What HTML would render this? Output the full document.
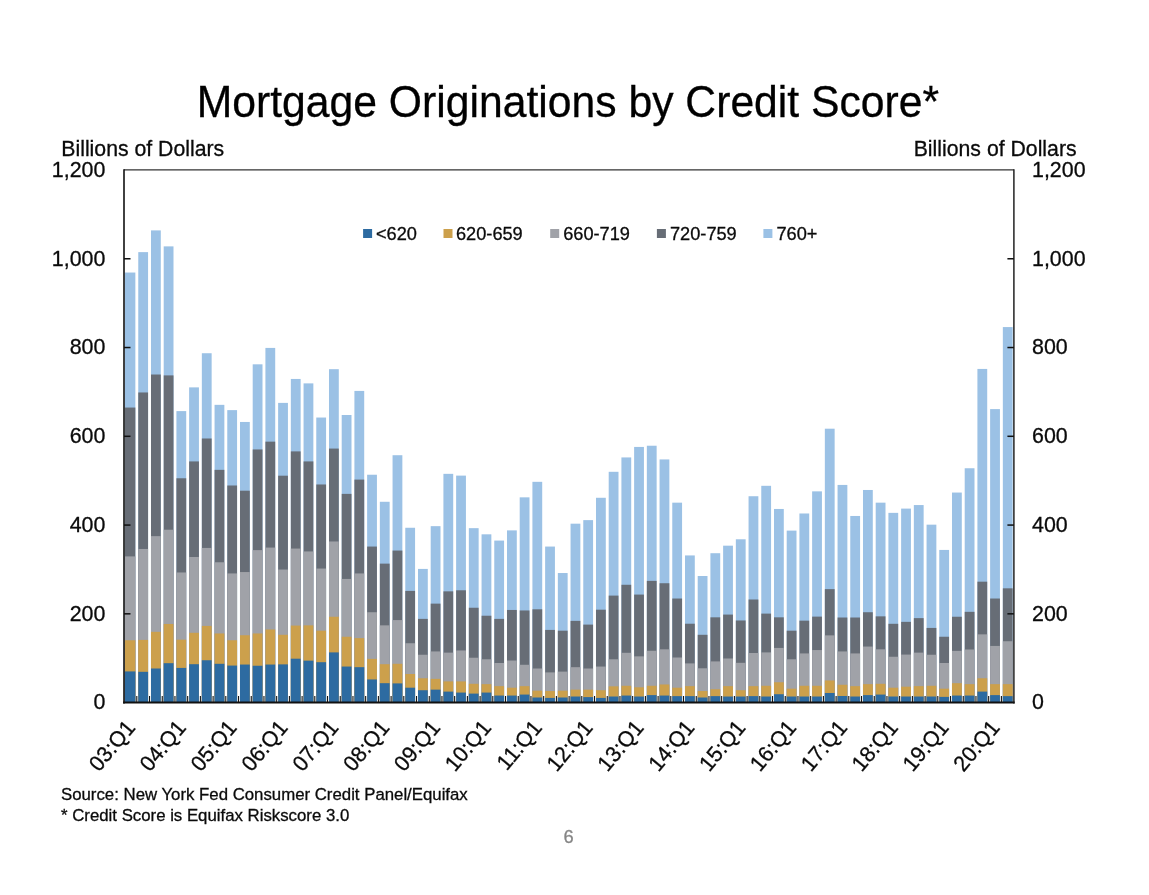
<!DOCTYPE html>
<html lang="en"><head><meta charset="utf-8"><title>Mortgage Originations by Credit Score</title>
<style>html,body{margin:0;padding:0;background:#fff;}body{width:1149px;height:895px;overflow:hidden;position:relative;font-family:"Liberation Sans",Arial,Helvetica,sans-serif;}svg{position:absolute;left:0;top:0;display:block;}text{font-family:"Liberation Sans",Arial,Helvetica,sans-serif;fill:#0a0a0a;stroke:#0a0a0a;stroke-width:0.3px;paint-order:stroke fill;}text.t{fill:#000;stroke:#000;stroke-width:0.3px;}text.pg{fill:#858585;stroke:#858585;stroke-width:0.3px;}</style></head><body>
<svg width="1149" height="895" viewBox="0 0 1149 895">
<rect x="0" y="0" width="1149" height="895" fill="#ffffff"/>
<text class="t" transform="translate(567.9 116.6) scale(1 1.025)" font-size="42.7" text-anchor="middle">Mortgage Originations by Credit Score*</text>
<g>
<rect x="124.76" y="272.53" width="10.6" height="429.67" fill="#9bc1e5"/>
<rect x="124.76" y="407.55" width="10.6" height="294.65" fill="#676d76"/>
<rect x="124.76" y="556.4" width="10.6" height="145.8" fill="#a0a2a8"/>
<rect x="124.76" y="640.25" width="10.6" height="61.95" fill="#cca04c"/>
<rect x="124.76" y="671.43" width="10.6" height="30.77" fill="#2d6ba1"/>
<rect x="138.27" y="252.13" width="9.8" height="450.07" fill="#9bc1e5"/>
<rect x="138.27" y="392.47" width="9.8" height="309.73" fill="#676d76"/>
<rect x="138.27" y="548.96" width="9.8" height="153.24" fill="#a0a2a8"/>
<rect x="138.27" y="639.9" width="9.8" height="62.3" fill="#cca04c"/>
<rect x="138.27" y="671.83" width="9.8" height="30.37" fill="#2d6ba1"/>
<rect x="150.99" y="230.4" width="9.8" height="471.8" fill="#9bc1e5"/>
<rect x="150.99" y="374.52" width="9.8" height="327.68" fill="#676d76"/>
<rect x="150.99" y="536.14" width="9.8" height="166.06" fill="#a0a2a8"/>
<rect x="150.99" y="631.83" width="9.8" height="70.37" fill="#cca04c"/>
<rect x="150.99" y="668.5" width="9.8" height="33.7" fill="#2d6ba1"/>
<rect x="163.7" y="246.37" width="9.8" height="455.83" fill="#9bc1e5"/>
<rect x="163.7" y="375.4" width="9.8" height="326.8" fill="#676d76"/>
<rect x="163.7" y="529.71" width="9.8" height="172.49" fill="#a0a2a8"/>
<rect x="163.7" y="623.98" width="9.8" height="78.22" fill="#cca04c"/>
<rect x="163.7" y="663.18" width="9.8" height="39.02" fill="#2d6ba1"/>
<rect x="176.41" y="411.1" width="9.8" height="291.1" fill="#9bc1e5"/>
<rect x="176.41" y="478.27" width="9.8" height="223.93" fill="#676d76"/>
<rect x="176.41" y="572.46" width="9.8" height="129.74" fill="#a0a2a8"/>
<rect x="176.41" y="639.68" width="9.8" height="62.52" fill="#cca04c"/>
<rect x="176.41" y="667.92" width="9.8" height="34.28" fill="#2d6ba1"/>
<rect x="189.13" y="387.37" width="9.8" height="314.83" fill="#9bc1e5"/>
<rect x="189.13" y="461.42" width="9.8" height="240.78" fill="#676d76"/>
<rect x="189.13" y="556.98" width="9.8" height="145.22" fill="#a0a2a8"/>
<rect x="189.13" y="632.81" width="9.8" height="69.39" fill="#cca04c"/>
<rect x="189.13" y="664.2" width="9.8" height="38" fill="#2d6ba1"/>
<rect x="201.84" y="353.23" width="9.8" height="348.97" fill="#9bc1e5"/>
<rect x="201.84" y="438.5" width="9.8" height="263.7" fill="#676d76"/>
<rect x="201.84" y="547.94" width="9.8" height="154.26" fill="#a0a2a8"/>
<rect x="201.84" y="625.93" width="9.8" height="76.27" fill="#cca04c"/>
<rect x="201.84" y="660.25" width="9.8" height="41.95" fill="#2d6ba1"/>
<rect x="214.56" y="404.84" width="9.8" height="297.36" fill="#9bc1e5"/>
<rect x="214.56" y="469.85" width="9.8" height="232.35" fill="#676d76"/>
<rect x="214.56" y="562.26" width="9.8" height="139.94" fill="#a0a2a8"/>
<rect x="214.56" y="633.47" width="9.8" height="68.73" fill="#cca04c"/>
<rect x="214.56" y="663.8" width="9.8" height="38.4" fill="#2d6ba1"/>
<rect x="227.27" y="410.12" width="9.8" height="292.08" fill="#9bc1e5"/>
<rect x="227.27" y="485.5" width="9.8" height="216.7" fill="#676d76"/>
<rect x="227.27" y="573.43" width="9.8" height="128.77" fill="#a0a2a8"/>
<rect x="227.27" y="640.25" width="9.8" height="61.95" fill="#cca04c"/>
<rect x="227.27" y="665.57" width="9.8" height="36.63" fill="#2d6ba1"/>
<rect x="239.99" y="421.96" width="9.8" height="280.24" fill="#9bc1e5"/>
<rect x="239.99" y="490.69" width="9.8" height="211.51" fill="#676d76"/>
<rect x="239.99" y="572.06" width="9.8" height="130.14" fill="#a0a2a8"/>
<rect x="239.99" y="635.24" width="9.8" height="66.96" fill="#cca04c"/>
<rect x="239.99" y="664.55" width="9.8" height="37.65" fill="#2d6ba1"/>
<rect x="252.7" y="364.32" width="9.8" height="337.88" fill="#9bc1e5"/>
<rect x="252.7" y="449.45" width="9.8" height="252.75" fill="#676d76"/>
<rect x="252.7" y="550.11" width="9.8" height="152.09" fill="#a0a2a8"/>
<rect x="252.7" y="633.47" width="9.8" height="68.73" fill="#cca04c"/>
<rect x="252.7" y="665.75" width="9.8" height="36.45" fill="#2d6ba1"/>
<rect x="265.41" y="347.91" width="9.8" height="354.29" fill="#9bc1e5"/>
<rect x="265.41" y="441.65" width="9.8" height="260.55" fill="#676d76"/>
<rect x="265.41" y="547.58" width="9.8" height="154.62" fill="#a0a2a8"/>
<rect x="265.41" y="629.48" width="9.8" height="72.72" fill="#cca04c"/>
<rect x="265.41" y="664.55" width="9.8" height="37.65" fill="#2d6ba1"/>
<rect x="278.13" y="402.89" width="9.8" height="299.31" fill="#9bc1e5"/>
<rect x="278.13" y="475.7" width="9.8" height="226.5" fill="#676d76"/>
<rect x="278.13" y="569.53" width="9.8" height="132.67" fill="#a0a2a8"/>
<rect x="278.13" y="634.8" width="9.8" height="67.4" fill="#cca04c"/>
<rect x="278.13" y="664.38" width="9.8" height="37.82" fill="#2d6ba1"/>
<rect x="290.84" y="378.95" width="9.8" height="323.25" fill="#9bc1e5"/>
<rect x="290.84" y="451.4" width="9.8" height="250.8" fill="#676d76"/>
<rect x="290.84" y="548.56" width="9.8" height="153.64" fill="#a0a2a8"/>
<rect x="290.84" y="625.58" width="9.8" height="76.62" fill="#cca04c"/>
<rect x="290.84" y="658.7" width="9.8" height="43.5" fill="#2d6ba1"/>
<rect x="303.56" y="383.38" width="9.8" height="318.82" fill="#9bc1e5"/>
<rect x="303.56" y="461.42" width="9.8" height="240.78" fill="#676d76"/>
<rect x="303.56" y="551.44" width="9.8" height="150.76" fill="#a0a2a8"/>
<rect x="303.56" y="625.36" width="9.8" height="76.84" fill="#cca04c"/>
<rect x="303.56" y="660.65" width="9.8" height="41.55" fill="#2d6ba1"/>
<rect x="316.27" y="417.53" width="9.8" height="284.67" fill="#9bc1e5"/>
<rect x="316.27" y="484.48" width="9.8" height="217.72" fill="#676d76"/>
<rect x="316.27" y="568.55" width="9.8" height="133.65" fill="#a0a2a8"/>
<rect x="316.27" y="630.68" width="9.8" height="71.52" fill="#cca04c"/>
<rect x="316.27" y="662.2" width="9.8" height="40" fill="#2d6ba1"/>
<rect x="328.99" y="369.19" width="9.8" height="333.01" fill="#9bc1e5"/>
<rect x="328.99" y="448.57" width="9.8" height="253.63" fill="#676d76"/>
<rect x="328.99" y="541.46" width="9.8" height="160.74" fill="#a0a2a8"/>
<rect x="328.99" y="616.75" width="9.8" height="85.45" fill="#cca04c"/>
<rect x="328.99" y="652.4" width="9.8" height="49.8" fill="#2d6ba1"/>
<rect x="341.7" y="415" width="9.8" height="287.2" fill="#9bc1e5"/>
<rect x="341.7" y="493.88" width="9.8" height="208.32" fill="#676d76"/>
<rect x="341.7" y="578.93" width="9.8" height="123.27" fill="#a0a2a8"/>
<rect x="341.7" y="636.75" width="9.8" height="65.45" fill="#cca04c"/>
<rect x="341.7" y="666.55" width="9.8" height="35.65" fill="#2d6ba1"/>
<rect x="354.41" y="390.92" width="9.8" height="311.28" fill="#9bc1e5"/>
<rect x="354.41" y="479.6" width="9.8" height="222.6" fill="#676d76"/>
<rect x="354.41" y="573.43" width="9.8" height="128.77" fill="#a0a2a8"/>
<rect x="354.41" y="638.13" width="9.8" height="64.07" fill="#cca04c"/>
<rect x="354.41" y="667.17" width="9.8" height="35.03" fill="#2d6ba1"/>
<rect x="367.13" y="474.73" width="9.8" height="227.47" fill="#9bc1e5"/>
<rect x="367.13" y="546.56" width="9.8" height="155.64" fill="#676d76"/>
<rect x="367.13" y="612.23" width="9.8" height="89.97" fill="#a0a2a8"/>
<rect x="367.13" y="658.88" width="9.8" height="43.32" fill="#cca04c"/>
<rect x="367.13" y="679.45" width="9.8" height="22.75" fill="#2d6ba1"/>
<rect x="379.84" y="501.78" width="9.8" height="200.42" fill="#9bc1e5"/>
<rect x="379.84" y="563.63" width="9.8" height="138.57" fill="#676d76"/>
<rect x="379.84" y="625.36" width="9.8" height="76.84" fill="#a0a2a8"/>
<rect x="379.84" y="664.2" width="9.8" height="38" fill="#cca04c"/>
<rect x="379.84" y="683.18" width="9.8" height="19.02" fill="#2d6ba1"/>
<rect x="392.56" y="455.22" width="9.8" height="246.98" fill="#9bc1e5"/>
<rect x="392.56" y="550.55" width="9.8" height="151.65" fill="#676d76"/>
<rect x="392.56" y="620.08" width="9.8" height="82.12" fill="#a0a2a8"/>
<rect x="392.56" y="663.8" width="9.8" height="38.4" fill="#cca04c"/>
<rect x="392.56" y="683.4" width="9.8" height="18.8" fill="#2d6ba1"/>
<rect x="405.27" y="527.76" width="9.8" height="174.44" fill="#9bc1e5"/>
<rect x="405.27" y="590.9" width="9.8" height="111.3" fill="#676d76"/>
<rect x="405.27" y="643.23" width="9.8" height="58.97" fill="#a0a2a8"/>
<rect x="405.27" y="674" width="9.8" height="28.2" fill="#cca04c"/>
<rect x="405.27" y="687.7" width="9.8" height="14.5" fill="#2d6ba1"/>
<rect x="417.99" y="568.91" width="9.8" height="133.29" fill="#9bc1e5"/>
<rect x="417.99" y="618.88" width="9.8" height="83.32" fill="#676d76"/>
<rect x="417.99" y="654.75" width="9.8" height="47.45" fill="#a0a2a8"/>
<rect x="417.99" y="678.26" width="9.8" height="23.94" fill="#cca04c"/>
<rect x="417.99" y="690.23" width="9.8" height="11.97" fill="#2d6ba1"/>
<rect x="430.7" y="526.16" width="9.8" height="176.04" fill="#9bc1e5"/>
<rect x="430.7" y="603.63" width="9.8" height="98.57" fill="#676d76"/>
<rect x="430.7" y="651.43" width="9.8" height="50.77" fill="#a0a2a8"/>
<rect x="430.7" y="678.88" width="9.8" height="23.32" fill="#cca04c"/>
<rect x="430.7" y="689.65" width="9.8" height="12.55" fill="#2d6ba1"/>
<rect x="443.41" y="473.84" width="9.8" height="228.36" fill="#9bc1e5"/>
<rect x="443.41" y="591.35" width="9.8" height="110.85" fill="#676d76"/>
<rect x="443.41" y="652.63" width="9.8" height="49.57" fill="#a0a2a8"/>
<rect x="443.41" y="681.4" width="9.8" height="20.8" fill="#cca04c"/>
<rect x="443.41" y="691.6" width="9.8" height="10.6" fill="#2d6ba1"/>
<rect x="456.13" y="475.61" width="9.8" height="226.59" fill="#9bc1e5"/>
<rect x="456.13" y="590.28" width="9.8" height="111.92" fill="#676d76"/>
<rect x="456.13" y="650.45" width="9.8" height="51.75" fill="#a0a2a8"/>
<rect x="456.13" y="681.4" width="9.8" height="20.8" fill="#cca04c"/>
<rect x="456.13" y="692.58" width="9.8" height="9.62" fill="#2d6ba1"/>
<rect x="468.84" y="528.16" width="9.8" height="174.04" fill="#9bc1e5"/>
<rect x="468.84" y="607.75" width="9.8" height="94.45" fill="#676d76"/>
<rect x="468.84" y="657.73" width="9.8" height="44.47" fill="#a0a2a8"/>
<rect x="468.84" y="683.8" width="9.8" height="18.4" fill="#cca04c"/>
<rect x="468.84" y="693.6" width="9.8" height="8.6" fill="#2d6ba1"/>
<rect x="481.56" y="534.32" width="9.8" height="167.88" fill="#9bc1e5"/>
<rect x="481.56" y="615.73" width="9.8" height="86.47" fill="#676d76"/>
<rect x="481.56" y="659.28" width="9.8" height="42.92" fill="#a0a2a8"/>
<rect x="481.56" y="684.15" width="9.8" height="18.05" fill="#cca04c"/>
<rect x="481.56" y="692.58" width="9.8" height="9.62" fill="#2d6ba1"/>
<rect x="494.27" y="540.57" width="9.8" height="161.63" fill="#9bc1e5"/>
<rect x="494.27" y="618.88" width="9.8" height="83.32" fill="#676d76"/>
<rect x="494.27" y="663" width="9.8" height="39.2" fill="#a0a2a8"/>
<rect x="494.27" y="686.15" width="9.8" height="16.05" fill="#cca04c"/>
<rect x="494.27" y="695.55" width="9.8" height="6.65" fill="#2d6ba1"/>
<rect x="506.99" y="530.38" width="9.8" height="171.82" fill="#9bc1e5"/>
<rect x="506.99" y="609.97" width="9.8" height="92.23" fill="#676d76"/>
<rect x="506.99" y="660.52" width="9.8" height="41.68" fill="#a0a2a8"/>
<rect x="506.99" y="687.7" width="9.8" height="14.5" fill="#cca04c"/>
<rect x="506.99" y="695.55" width="9.8" height="6.65" fill="#2d6ba1"/>
<rect x="519.7" y="497.34" width="9.8" height="204.86" fill="#9bc1e5"/>
<rect x="519.7" y="610.46" width="9.8" height="91.74" fill="#676d76"/>
<rect x="519.7" y="664.78" width="9.8" height="37.42" fill="#a0a2a8"/>
<rect x="519.7" y="686.15" width="9.8" height="16.05" fill="#cca04c"/>
<rect x="519.7" y="694.57" width="9.8" height="7.63" fill="#2d6ba1"/>
<rect x="532.41" y="481.82" width="9.8" height="220.38" fill="#9bc1e5"/>
<rect x="532.41" y="609.3" width="9.8" height="92.9" fill="#676d76"/>
<rect x="532.41" y="668.5" width="9.8" height="33.7" fill="#a0a2a8"/>
<rect x="532.41" y="690.67" width="9.8" height="11.53" fill="#cca04c"/>
<rect x="532.41" y="697.5" width="9.8" height="4.7" fill="#2d6ba1"/>
<rect x="545.13" y="546.56" width="9.8" height="155.64" fill="#9bc1e5"/>
<rect x="545.13" y="629.92" width="9.8" height="72.28" fill="#676d76"/>
<rect x="545.13" y="672.4" width="9.8" height="29.8" fill="#a0a2a8"/>
<rect x="545.13" y="691.03" width="9.8" height="11.17" fill="#cca04c"/>
<rect x="545.13" y="697.9" width="9.8" height="4.3" fill="#2d6ba1"/>
<rect x="557.84" y="573.03" width="9.8" height="129.17" fill="#9bc1e5"/>
<rect x="557.84" y="630.68" width="9.8" height="71.52" fill="#676d76"/>
<rect x="557.84" y="671.6" width="9.8" height="30.6" fill="#a0a2a8"/>
<rect x="557.84" y="690.67" width="9.8" height="11.53" fill="#cca04c"/>
<rect x="557.84" y="697.5" width="9.8" height="4.7" fill="#2d6ba1"/>
<rect x="570.56" y="523.68" width="9.8" height="178.52" fill="#9bc1e5"/>
<rect x="570.56" y="620.88" width="9.8" height="81.32" fill="#676d76"/>
<rect x="570.56" y="667.17" width="9.8" height="35.03" fill="#a0a2a8"/>
<rect x="570.56" y="689.65" width="9.8" height="12.55" fill="#cca04c"/>
<rect x="570.56" y="696.52" width="9.8" height="5.68" fill="#2d6ba1"/>
<rect x="583.27" y="520.13" width="9.8" height="182.07" fill="#9bc1e5"/>
<rect x="583.27" y="624.6" width="9.8" height="77.6" fill="#676d76"/>
<rect x="583.27" y="668.5" width="9.8" height="33.7" fill="#a0a2a8"/>
<rect x="583.27" y="689.65" width="9.8" height="12.55" fill="#cca04c"/>
<rect x="583.27" y="697.1" width="9.8" height="5.1" fill="#2d6ba1"/>
<rect x="595.99" y="497.78" width="9.8" height="204.42" fill="#9bc1e5"/>
<rect x="595.99" y="609.7" width="9.8" height="92.5" fill="#676d76"/>
<rect x="595.99" y="666.55" width="9.8" height="35.65" fill="#a0a2a8"/>
<rect x="595.99" y="690.23" width="9.8" height="11.97" fill="#cca04c"/>
<rect x="595.99" y="697.9" width="9.8" height="4.3" fill="#2d6ba1"/>
<rect x="608.7" y="471.8" width="9.8" height="230.4" fill="#9bc1e5"/>
<rect x="608.7" y="595.6" width="9.8" height="106.6" fill="#676d76"/>
<rect x="608.7" y="659.28" width="9.8" height="42.92" fill="#a0a2a8"/>
<rect x="608.7" y="686.33" width="9.8" height="15.87" fill="#cca04c"/>
<rect x="608.7" y="696.52" width="9.8" height="5.68" fill="#2d6ba1"/>
<rect x="621.41" y="457.43" width="9.8" height="244.77" fill="#9bc1e5"/>
<rect x="621.41" y="584.78" width="9.8" height="117.42" fill="#676d76"/>
<rect x="621.41" y="652.8" width="9.8" height="49.4" fill="#a0a2a8"/>
<rect x="621.41" y="685.79" width="9.8" height="16.41" fill="#cca04c"/>
<rect x="621.41" y="695.55" width="9.8" height="6.65" fill="#2d6ba1"/>
<rect x="634.13" y="446.93" width="9.8" height="255.27" fill="#9bc1e5"/>
<rect x="634.13" y="594.58" width="9.8" height="107.62" fill="#676d76"/>
<rect x="634.13" y="656.35" width="9.8" height="45.85" fill="#a0a2a8"/>
<rect x="634.13" y="687.3" width="9.8" height="14.9" fill="#cca04c"/>
<rect x="634.13" y="696.52" width="9.8" height="5.68" fill="#2d6ba1"/>
<rect x="646.84" y="445.73" width="9.8" height="256.47" fill="#9bc1e5"/>
<rect x="646.84" y="580.88" width="9.8" height="121.32" fill="#676d76"/>
<rect x="646.84" y="650.76" width="9.8" height="51.44" fill="#a0a2a8"/>
<rect x="646.84" y="685.79" width="9.8" height="16.41" fill="#cca04c"/>
<rect x="646.84" y="695.11" width="9.8" height="7.09" fill="#2d6ba1"/>
<rect x="659.56" y="459.43" width="9.8" height="242.77" fill="#9bc1e5"/>
<rect x="659.56" y="583.23" width="9.8" height="118.97" fill="#676d76"/>
<rect x="659.56" y="649.3" width="9.8" height="52.9" fill="#a0a2a8"/>
<rect x="659.56" y="684.46" width="9.8" height="17.74" fill="#cca04c"/>
<rect x="659.56" y="695.55" width="9.8" height="6.65" fill="#2d6ba1"/>
<rect x="672.27" y="502.66" width="9.8" height="199.54" fill="#9bc1e5"/>
<rect x="672.27" y="598.53" width="9.8" height="103.67" fill="#676d76"/>
<rect x="672.27" y="657.5" width="9.8" height="44.7" fill="#a0a2a8"/>
<rect x="672.27" y="687.7" width="9.8" height="14.5" fill="#cca04c"/>
<rect x="672.27" y="696.13" width="9.8" height="6.07" fill="#2d6ba1"/>
<rect x="684.99" y="555.43" width="9.8" height="146.77" fill="#9bc1e5"/>
<rect x="684.99" y="623.72" width="9.8" height="78.48" fill="#676d76"/>
<rect x="684.99" y="663.4" width="9.8" height="38.8" fill="#a0a2a8"/>
<rect x="684.99" y="686.15" width="9.8" height="16.05" fill="#cca04c"/>
<rect x="684.99" y="696.13" width="9.8" height="6.07" fill="#2d6ba1"/>
<rect x="697.7" y="576" width="9.8" height="126.2" fill="#9bc1e5"/>
<rect x="697.7" y="634.8" width="9.8" height="67.4" fill="#676d76"/>
<rect x="697.7" y="668.28" width="9.8" height="33.92" fill="#a0a2a8"/>
<rect x="697.7" y="691.03" width="9.8" height="11.17" fill="#cca04c"/>
<rect x="697.7" y="697.5" width="9.8" height="4.7" fill="#2d6ba1"/>
<rect x="710.41" y="553.21" width="9.8" height="148.99" fill="#9bc1e5"/>
<rect x="710.41" y="617.33" width="9.8" height="84.87" fill="#676d76"/>
<rect x="710.41" y="661.41" width="9.8" height="40.79" fill="#a0a2a8"/>
<rect x="710.41" y="689.25" width="9.8" height="12.95" fill="#cca04c"/>
<rect x="710.41" y="696.13" width="9.8" height="6.07" fill="#2d6ba1"/>
<rect x="723.13" y="545.67" width="9.8" height="156.53" fill="#9bc1e5"/>
<rect x="723.13" y="614.58" width="9.8" height="87.62" fill="#676d76"/>
<rect x="723.13" y="658.48" width="9.8" height="43.72" fill="#a0a2a8"/>
<rect x="723.13" y="686.15" width="9.8" height="16.05" fill="#cca04c"/>
<rect x="723.13" y="696.52" width="9.8" height="5.68" fill="#2d6ba1"/>
<rect x="735.84" y="539.29" width="9.8" height="162.91" fill="#9bc1e5"/>
<rect x="735.84" y="620.48" width="9.8" height="81.72" fill="#676d76"/>
<rect x="735.84" y="662.82" width="9.8" height="39.38" fill="#a0a2a8"/>
<rect x="735.84" y="690.23" width="9.8" height="11.97" fill="#cca04c"/>
<rect x="735.84" y="696.52" width="9.8" height="5.68" fill="#2d6ba1"/>
<rect x="748.56" y="496.23" width="9.8" height="205.97" fill="#9bc1e5"/>
<rect x="748.56" y="599.5" width="9.8" height="102.7" fill="#676d76"/>
<rect x="748.56" y="652.98" width="9.8" height="49.22" fill="#a0a2a8"/>
<rect x="748.56" y="686.15" width="9.8" height="16.05" fill="#cca04c"/>
<rect x="748.56" y="696.13" width="9.8" height="6.07" fill="#2d6ba1"/>
<rect x="761.27" y="485.81" width="9.8" height="216.39" fill="#9bc1e5"/>
<rect x="761.27" y="613.61" width="9.8" height="88.59" fill="#676d76"/>
<rect x="761.27" y="652.4" width="9.8" height="49.8" fill="#a0a2a8"/>
<rect x="761.27" y="685.79" width="9.8" height="16.41" fill="#cca04c"/>
<rect x="761.27" y="696.52" width="9.8" height="5.68" fill="#2d6ba1"/>
<rect x="773.99" y="508.96" width="9.8" height="193.24" fill="#9bc1e5"/>
<rect x="773.99" y="617.33" width="9.8" height="84.87" fill="#676d76"/>
<rect x="773.99" y="647.93" width="9.8" height="54.27" fill="#a0a2a8"/>
<rect x="773.99" y="682.25" width="9.8" height="19.95" fill="#cca04c"/>
<rect x="773.99" y="694.22" width="9.8" height="7.98" fill="#2d6ba1"/>
<rect x="786.7" y="530.6" width="9.8" height="171.6" fill="#9bc1e5"/>
<rect x="786.7" y="630.68" width="9.8" height="71.52" fill="#676d76"/>
<rect x="786.7" y="659.28" width="9.8" height="42.92" fill="#a0a2a8"/>
<rect x="786.7" y="688.68" width="9.8" height="13.52" fill="#cca04c"/>
<rect x="786.7" y="696.52" width="9.8" height="5.68" fill="#2d6ba1"/>
<rect x="799.41" y="513.48" width="9.8" height="188.72" fill="#9bc1e5"/>
<rect x="799.41" y="620.66" width="9.8" height="81.54" fill="#676d76"/>
<rect x="799.41" y="653.42" width="9.8" height="48.78" fill="#a0a2a8"/>
<rect x="799.41" y="685.79" width="9.8" height="16.41" fill="#cca04c"/>
<rect x="799.41" y="696.52" width="9.8" height="5.68" fill="#2d6ba1"/>
<rect x="812.13" y="491.36" width="9.8" height="210.84" fill="#9bc1e5"/>
<rect x="812.13" y="616.62" width="9.8" height="85.58" fill="#676d76"/>
<rect x="812.13" y="650.05" width="9.8" height="52.15" fill="#a0a2a8"/>
<rect x="812.13" y="685.79" width="9.8" height="16.41" fill="#cca04c"/>
<rect x="812.13" y="696.52" width="9.8" height="5.68" fill="#2d6ba1"/>
<rect x="824.84" y="428.7" width="9.8" height="273.5" fill="#9bc1e5"/>
<rect x="824.84" y="589.13" width="9.8" height="113.07" fill="#676d76"/>
<rect x="824.84" y="635.38" width="9.8" height="66.82" fill="#a0a2a8"/>
<rect x="824.84" y="680.47" width="9.8" height="21.73" fill="#cca04c"/>
<rect x="824.84" y="692.98" width="9.8" height="9.22" fill="#2d6ba1"/>
<rect x="837.56" y="484.93" width="9.8" height="217.27" fill="#9bc1e5"/>
<rect x="837.56" y="617.51" width="9.8" height="84.69" fill="#676d76"/>
<rect x="837.56" y="651.43" width="9.8" height="50.77" fill="#a0a2a8"/>
<rect x="837.56" y="684.77" width="9.8" height="17.43" fill="#cca04c"/>
<rect x="837.56" y="695.99" width="9.8" height="6.21" fill="#2d6ba1"/>
<rect x="850.27" y="515.97" width="9.8" height="186.24" fill="#9bc1e5"/>
<rect x="850.27" y="617.51" width="9.8" height="84.69" fill="#676d76"/>
<rect x="850.27" y="653.42" width="9.8" height="48.78" fill="#a0a2a8"/>
<rect x="850.27" y="686.15" width="9.8" height="16.05" fill="#cca04c"/>
<rect x="850.27" y="696.52" width="9.8" height="5.68" fill="#2d6ba1"/>
<rect x="862.99" y="489.98" width="9.8" height="212.22" fill="#9bc1e5"/>
<rect x="862.99" y="612.23" width="9.8" height="89.97" fill="#676d76"/>
<rect x="862.99" y="646.55" width="9.8" height="55.65" fill="#a0a2a8"/>
<rect x="862.99" y="684.15" width="9.8" height="18.05" fill="#cca04c"/>
<rect x="862.99" y="695.11" width="9.8" height="7.09" fill="#2d6ba1"/>
<rect x="875.7" y="502.66" width="9.8" height="199.54" fill="#9bc1e5"/>
<rect x="875.7" y="616.35" width="9.8" height="85.85" fill="#676d76"/>
<rect x="875.7" y="649.3" width="9.8" height="52.9" fill="#a0a2a8"/>
<rect x="875.7" y="683.8" width="9.8" height="18.4" fill="#cca04c"/>
<rect x="875.7" y="694.57" width="9.8" height="7.63" fill="#2d6ba1"/>
<rect x="888.41" y="512.86" width="9.8" height="189.34" fill="#9bc1e5"/>
<rect x="888.41" y="623.8" width="9.8" height="78.4" fill="#676d76"/>
<rect x="888.41" y="656.75" width="9.8" height="45.45" fill="#a0a2a8"/>
<rect x="888.41" y="687.7" width="9.8" height="14.5" fill="#cca04c"/>
<rect x="888.41" y="696.52" width="9.8" height="5.68" fill="#2d6ba1"/>
<rect x="901.13" y="508.6" width="9.8" height="193.6" fill="#9bc1e5"/>
<rect x="901.13" y="621.85" width="9.8" height="80.35" fill="#676d76"/>
<rect x="901.13" y="654.58" width="9.8" height="47.62" fill="#a0a2a8"/>
<rect x="901.13" y="686.68" width="9.8" height="15.52" fill="#cca04c"/>
<rect x="901.13" y="696.52" width="9.8" height="5.68" fill="#2d6ba1"/>
<rect x="913.84" y="505.06" width="9.8" height="197.14" fill="#9bc1e5"/>
<rect x="913.84" y="618.13" width="9.8" height="84.07" fill="#676d76"/>
<rect x="913.84" y="652.63" width="9.8" height="49.57" fill="#a0a2a8"/>
<rect x="913.84" y="686.15" width="9.8" height="16.05" fill="#cca04c"/>
<rect x="913.84" y="696.52" width="9.8" height="5.68" fill="#2d6ba1"/>
<rect x="926.56" y="524.66" width="9.8" height="177.54" fill="#9bc1e5"/>
<rect x="926.56" y="627.93" width="9.8" height="74.27" fill="#676d76"/>
<rect x="926.56" y="654.75" width="9.8" height="47.45" fill="#a0a2a8"/>
<rect x="926.56" y="685.79" width="9.8" height="16.41" fill="#cca04c"/>
<rect x="926.56" y="696.52" width="9.8" height="5.68" fill="#2d6ba1"/>
<rect x="939.27" y="549.93" width="9.8" height="152.27" fill="#9bc1e5"/>
<rect x="939.27" y="636.75" width="9.8" height="65.45" fill="#676d76"/>
<rect x="939.27" y="663" width="9.8" height="39.2" fill="#a0a2a8"/>
<rect x="939.27" y="688.68" width="9.8" height="13.52" fill="#cca04c"/>
<rect x="939.27" y="696.88" width="9.8" height="5.32" fill="#2d6ba1"/>
<rect x="951.99" y="492.55" width="9.8" height="209.65" fill="#9bc1e5"/>
<rect x="951.99" y="616.75" width="9.8" height="85.45" fill="#676d76"/>
<rect x="951.99" y="650.85" width="9.8" height="51.35" fill="#a0a2a8"/>
<rect x="951.99" y="683.18" width="9.8" height="19.02" fill="#cca04c"/>
<rect x="951.99" y="695.55" width="9.8" height="6.65" fill="#2d6ba1"/>
<rect x="964.7" y="468.25" width="9.8" height="233.95" fill="#9bc1e5"/>
<rect x="964.7" y="611.83" width="9.8" height="90.37" fill="#676d76"/>
<rect x="964.7" y="649.48" width="9.8" height="52.72" fill="#a0a2a8"/>
<rect x="964.7" y="684.15" width="9.8" height="18.05" fill="#cca04c"/>
<rect x="964.7" y="695.55" width="9.8" height="6.65" fill="#2d6ba1"/>
<rect x="977.41" y="368.93" width="9.8" height="333.27" fill="#9bc1e5"/>
<rect x="977.41" y="581.68" width="9.8" height="120.52" fill="#676d76"/>
<rect x="977.41" y="634.36" width="9.8" height="67.84" fill="#a0a2a8"/>
<rect x="977.41" y="678.26" width="9.8" height="23.94" fill="#cca04c"/>
<rect x="977.41" y="691.6" width="9.8" height="10.6" fill="#2d6ba1"/>
<rect x="990.13" y="409.1" width="9.8" height="293.1" fill="#9bc1e5"/>
<rect x="990.13" y="598.53" width="9.8" height="103.67" fill="#676d76"/>
<rect x="990.13" y="645.93" width="9.8" height="56.27" fill="#a0a2a8"/>
<rect x="990.13" y="684.15" width="9.8" height="18.05" fill="#cca04c"/>
<rect x="990.13" y="695.11" width="9.8" height="7.09" fill="#2d6ba1"/>
<rect x="1002.84" y="327.07" width="9.8" height="375.13" fill="#9bc1e5"/>
<rect x="1002.84" y="588.33" width="9.8" height="113.87" fill="#676d76"/>
<rect x="1002.84" y="641.23" width="9.8" height="60.97" fill="#a0a2a8"/>
<rect x="1002.84" y="684.15" width="9.8" height="18.05" fill="#cca04c"/>
<rect x="1002.84" y="696.13" width="9.8" height="6.07" fill="#2d6ba1"/>
</g>
<g stroke="#111" fill="none">
<line x1="124.0" y1="169.85" x2="1013.9" y2="169.85" stroke-width="1.4" stroke="#333"/>
<line x1="1013.9" y1="169.15" x2="1013.9" y2="703.5" stroke-width="1.5" stroke="#222"/>
<line x1="124.0" y1="169.15" x2="124.0" y2="703.5" stroke-width="1.6"/>
<line x1="123.1" y1="702.5" x2="1014.65" y2="702.5" stroke-width="2.0"/>
<line x1="124.0" y1="613.83" x2="130.5" y2="613.83" stroke-width="1.5"/>
<line x1="1007.4" y1="613.83" x2="1013.9" y2="613.83" stroke-width="1.5"/>
<line x1="124.0" y1="525.07" x2="130.5" y2="525.07" stroke-width="1.5"/>
<line x1="1007.4" y1="525.07" x2="1013.9" y2="525.07" stroke-width="1.5"/>
<line x1="124.0" y1="436.3" x2="130.5" y2="436.3" stroke-width="1.5"/>
<line x1="1007.4" y1="436.3" x2="1013.9" y2="436.3" stroke-width="1.5"/>
<line x1="124.0" y1="347.53" x2="130.5" y2="347.53" stroke-width="1.5"/>
<line x1="1007.4" y1="347.53" x2="1013.9" y2="347.53" stroke-width="1.5"/>
<line x1="124.0" y1="258.77" x2="130.5" y2="258.77" stroke-width="1.5"/>
<line x1="1007.4" y1="258.77" x2="1013.9" y2="258.77" stroke-width="1.5"/>
<line x1="136.81" y1="702.5" x2="136.81" y2="696" stroke-width="1.1"/>
<line x1="149.53" y1="702.5" x2="149.53" y2="696" stroke-width="1.1"/>
<line x1="162.24" y1="702.5" x2="162.24" y2="696" stroke-width="1.1"/>
<line x1="174.96" y1="702.5" x2="174.96" y2="696" stroke-width="1.1"/>
<line x1="187.67" y1="702.5" x2="187.67" y2="696" stroke-width="1.1"/>
<line x1="200.39" y1="702.5" x2="200.39" y2="696" stroke-width="1.1"/>
<line x1="213.1" y1="702.5" x2="213.1" y2="696" stroke-width="1.1"/>
<line x1="225.81" y1="702.5" x2="225.81" y2="696" stroke-width="1.1"/>
<line x1="238.53" y1="702.5" x2="238.53" y2="696" stroke-width="1.1"/>
<line x1="251.24" y1="702.5" x2="251.24" y2="696" stroke-width="1.1"/>
<line x1="263.96" y1="702.5" x2="263.96" y2="696" stroke-width="1.1"/>
<line x1="276.67" y1="702.5" x2="276.67" y2="696" stroke-width="1.1"/>
<line x1="289.39" y1="702.5" x2="289.39" y2="696" stroke-width="1.1"/>
<line x1="302.1" y1="702.5" x2="302.1" y2="696" stroke-width="1.1"/>
<line x1="314.81" y1="702.5" x2="314.81" y2="696" stroke-width="1.1"/>
<line x1="327.53" y1="702.5" x2="327.53" y2="696" stroke-width="1.1"/>
<line x1="340.24" y1="702.5" x2="340.24" y2="696" stroke-width="1.1"/>
<line x1="352.96" y1="702.5" x2="352.96" y2="696" stroke-width="1.1"/>
<line x1="365.67" y1="702.5" x2="365.67" y2="696" stroke-width="1.1"/>
<line x1="378.39" y1="702.5" x2="378.39" y2="696" stroke-width="1.1"/>
<line x1="391.1" y1="702.5" x2="391.1" y2="696" stroke-width="1.1"/>
<line x1="403.81" y1="702.5" x2="403.81" y2="696" stroke-width="1.1"/>
<line x1="416.53" y1="702.5" x2="416.53" y2="696" stroke-width="1.1"/>
<line x1="429.24" y1="702.5" x2="429.24" y2="696" stroke-width="1.1"/>
<line x1="441.96" y1="702.5" x2="441.96" y2="696" stroke-width="1.1"/>
<line x1="454.67" y1="702.5" x2="454.67" y2="696" stroke-width="1.1"/>
<line x1="467.39" y1="702.5" x2="467.39" y2="696" stroke-width="1.1"/>
<line x1="480.1" y1="702.5" x2="480.1" y2="696" stroke-width="1.1"/>
<line x1="492.81" y1="702.5" x2="492.81" y2="696" stroke-width="1.1"/>
<line x1="505.53" y1="702.5" x2="505.53" y2="696" stroke-width="1.1"/>
<line x1="518.24" y1="702.5" x2="518.24" y2="696" stroke-width="1.1"/>
<line x1="530.96" y1="702.5" x2="530.96" y2="696" stroke-width="1.1"/>
<line x1="543.67" y1="702.5" x2="543.67" y2="696" stroke-width="1.1"/>
<line x1="556.39" y1="702.5" x2="556.39" y2="696" stroke-width="1.1"/>
<line x1="569.1" y1="702.5" x2="569.1" y2="696" stroke-width="1.1"/>
<line x1="581.81" y1="702.5" x2="581.81" y2="696" stroke-width="1.1"/>
<line x1="594.53" y1="702.5" x2="594.53" y2="696" stroke-width="1.1"/>
<line x1="607.24" y1="702.5" x2="607.24" y2="696" stroke-width="1.1"/>
<line x1="619.96" y1="702.5" x2="619.96" y2="696" stroke-width="1.1"/>
<line x1="632.67" y1="702.5" x2="632.67" y2="696" stroke-width="1.1"/>
<line x1="645.39" y1="702.5" x2="645.39" y2="696" stroke-width="1.1"/>
<line x1="658.1" y1="702.5" x2="658.1" y2="696" stroke-width="1.1"/>
<line x1="670.81" y1="702.5" x2="670.81" y2="696" stroke-width="1.1"/>
<line x1="683.53" y1="702.5" x2="683.53" y2="696" stroke-width="1.1"/>
<line x1="696.24" y1="702.5" x2="696.24" y2="696" stroke-width="1.1"/>
<line x1="708.96" y1="702.5" x2="708.96" y2="696" stroke-width="1.1"/>
<line x1="721.67" y1="702.5" x2="721.67" y2="696" stroke-width="1.1"/>
<line x1="734.39" y1="702.5" x2="734.39" y2="696" stroke-width="1.1"/>
<line x1="747.1" y1="702.5" x2="747.1" y2="696" stroke-width="1.1"/>
<line x1="759.81" y1="702.5" x2="759.81" y2="696" stroke-width="1.1"/>
<line x1="772.53" y1="702.5" x2="772.53" y2="696" stroke-width="1.1"/>
<line x1="785.24" y1="702.5" x2="785.24" y2="696" stroke-width="1.1"/>
<line x1="797.96" y1="702.5" x2="797.96" y2="696" stroke-width="1.1"/>
<line x1="810.67" y1="702.5" x2="810.67" y2="696" stroke-width="1.1"/>
<line x1="823.39" y1="702.5" x2="823.39" y2="696" stroke-width="1.1"/>
<line x1="836.1" y1="702.5" x2="836.1" y2="696" stroke-width="1.1"/>
<line x1="848.81" y1="702.5" x2="848.81" y2="696" stroke-width="1.1"/>
<line x1="861.53" y1="702.5" x2="861.53" y2="696" stroke-width="1.1"/>
<line x1="874.24" y1="702.5" x2="874.24" y2="696" stroke-width="1.1"/>
<line x1="886.96" y1="702.5" x2="886.96" y2="696" stroke-width="1.1"/>
<line x1="899.67" y1="702.5" x2="899.67" y2="696" stroke-width="1.1"/>
<line x1="912.39" y1="702.5" x2="912.39" y2="696" stroke-width="1.1"/>
<line x1="925.1" y1="702.5" x2="925.1" y2="696" stroke-width="1.1"/>
<line x1="937.81" y1="702.5" x2="937.81" y2="696" stroke-width="1.1"/>
<line x1="950.53" y1="702.5" x2="950.53" y2="696" stroke-width="1.1"/>
<line x1="963.24" y1="702.5" x2="963.24" y2="696" stroke-width="1.1"/>
<line x1="975.96" y1="702.5" x2="975.96" y2="696" stroke-width="1.1"/>
<line x1="988.67" y1="702.5" x2="988.67" y2="696" stroke-width="1.1"/>
<line x1="1001.39" y1="702.5" x2="1001.39" y2="696" stroke-width="1.1"/>
</g>
<text transform="translate(105.4 709.4) scale(1 1.04)" font-size="21.4" text-anchor="end">0</text>
<text transform="translate(1032 709.4) scale(1 1.04)" font-size="21.4">0</text>
<text transform="translate(105.4 620.63) scale(1 1.04)" font-size="21.4" text-anchor="end">200</text>
<text transform="translate(1032 620.63) scale(1 1.04)" font-size="21.4">200</text>
<text transform="translate(105.4 531.87) scale(1 1.04)" font-size="21.4" text-anchor="end">400</text>
<text transform="translate(1032 531.87) scale(1 1.04)" font-size="21.4">400</text>
<text transform="translate(105.4 443.1) scale(1 1.04)" font-size="21.4" text-anchor="end">600</text>
<text transform="translate(1032 443.1) scale(1 1.04)" font-size="21.4">600</text>
<text transform="translate(105.4 354.33) scale(1 1.04)" font-size="21.4" text-anchor="end">800</text>
<text transform="translate(1032 354.33) scale(1 1.04)" font-size="21.4">800</text>
<text transform="translate(105.4 265.57) scale(1 1.04)" font-size="21.4" text-anchor="end">1,000</text>
<text transform="translate(1032 265.57) scale(1 1.04)" font-size="21.4">1,000</text>
<text transform="translate(105.4 176.8) scale(1 1.04)" font-size="21.4" text-anchor="end">1,200</text>
<text transform="translate(1032 176.8) scale(1 1.04)" font-size="21.4">1,200</text>
<text transform="translate(61.3 155.8) scale(1 1.02)" font-size="21.25">Billions of Dollars</text>
<text transform="translate(1076.6 156.3) scale(1 1.02)" font-size="21.25" text-anchor="end">Billions of Dollars</text>
<text transform="translate(136.26 728.2) rotate(-50) scale(1 1.03)" font-size="21.3" text-anchor="end">03:Q1</text>
<text transform="translate(187.11 728.2) rotate(-50) scale(1 1.03)" font-size="21.3" text-anchor="end">04:Q1</text>
<text transform="translate(237.97 728.2) rotate(-50) scale(1 1.03)" font-size="21.3" text-anchor="end">05:Q1</text>
<text transform="translate(288.83 728.2) rotate(-50) scale(1 1.03)" font-size="21.3" text-anchor="end">06:Q1</text>
<text transform="translate(339.69 728.2) rotate(-50) scale(1 1.03)" font-size="21.3" text-anchor="end">07:Q1</text>
<text transform="translate(390.54 728.2) rotate(-50) scale(1 1.03)" font-size="21.3" text-anchor="end">08:Q1</text>
<text transform="translate(441.4 728.2) rotate(-50) scale(1 1.03)" font-size="21.3" text-anchor="end">09:Q1</text>
<text transform="translate(492.26 728.2) rotate(-50) scale(1 1.03)" font-size="21.3" text-anchor="end">10:Q1</text>
<text transform="translate(543.11 728.2) rotate(-50) scale(1 1.03)" font-size="21.3" text-anchor="end">11:Q1</text>
<text transform="translate(593.97 728.2) rotate(-50) scale(1 1.03)" font-size="21.3" text-anchor="end">12:Q1</text>
<text transform="translate(644.83 728.2) rotate(-50) scale(1 1.03)" font-size="21.3" text-anchor="end">13:Q1</text>
<text transform="translate(695.69 728.2) rotate(-50) scale(1 1.03)" font-size="21.3" text-anchor="end">14:Q1</text>
<text transform="translate(746.54 728.2) rotate(-50) scale(1 1.03)" font-size="21.3" text-anchor="end">15:Q1</text>
<text transform="translate(797.4 728.2) rotate(-50) scale(1 1.03)" font-size="21.3" text-anchor="end">16:Q1</text>
<text transform="translate(848.26 728.2) rotate(-50) scale(1 1.03)" font-size="21.3" text-anchor="end">17:Q1</text>
<text transform="translate(899.11 728.2) rotate(-50) scale(1 1.03)" font-size="21.3" text-anchor="end">18:Q1</text>
<text transform="translate(949.97 728.2) rotate(-50) scale(1 1.03)" font-size="21.3" text-anchor="end">19:Q1</text>
<text transform="translate(1000.83 728.2) rotate(-50) scale(1 1.03)" font-size="21.3" text-anchor="end">20:Q1</text>
<rect x="363.1" y="229.0" width="9.0" height="9.0" fill="#2d6ba1"/>
<text transform="translate(376 239.5) scale(1 1.04)" font-size="18.2">&lt;620</text>
<rect x="443.5" y="229.0" width="9.0" height="9.0" fill="#cca04c"/>
<text transform="translate(456 239.5) scale(1 1.04)" font-size="18.2">620-659</text>
<rect x="550.2" y="229.0" width="9.0" height="9.0" fill="#a0a2a8"/>
<text transform="translate(563.2 239.5) scale(1 1.04)" font-size="18.2">660-719</text>
<rect x="656.9" y="229.0" width="9.0" height="9.0" fill="#676d76"/>
<text transform="translate(670 239.5) scale(1 1.04)" font-size="18.2">720-759</text>
<rect x="763.4" y="229.0" width="9.0" height="9.0" fill="#9bc1e5"/>
<text transform="translate(776.5 239.5) scale(1 1.04)" font-size="18.2">760+</text>
<text transform="translate(61 800.3) scale(1 1.02)" font-size="16.8">Source: New York Fed Consumer Credit Panel/Equifax</text>
<text transform="translate(61 820.5) scale(1 1.02)" font-size="16.8">* Credit Score is Equifax Riskscore 3.0</text>
<text class="pg" transform="translate(568.6 843.2) scale(1 1.04)" font-size="18.3" text-anchor="middle">6</text>
</svg></body></html>
